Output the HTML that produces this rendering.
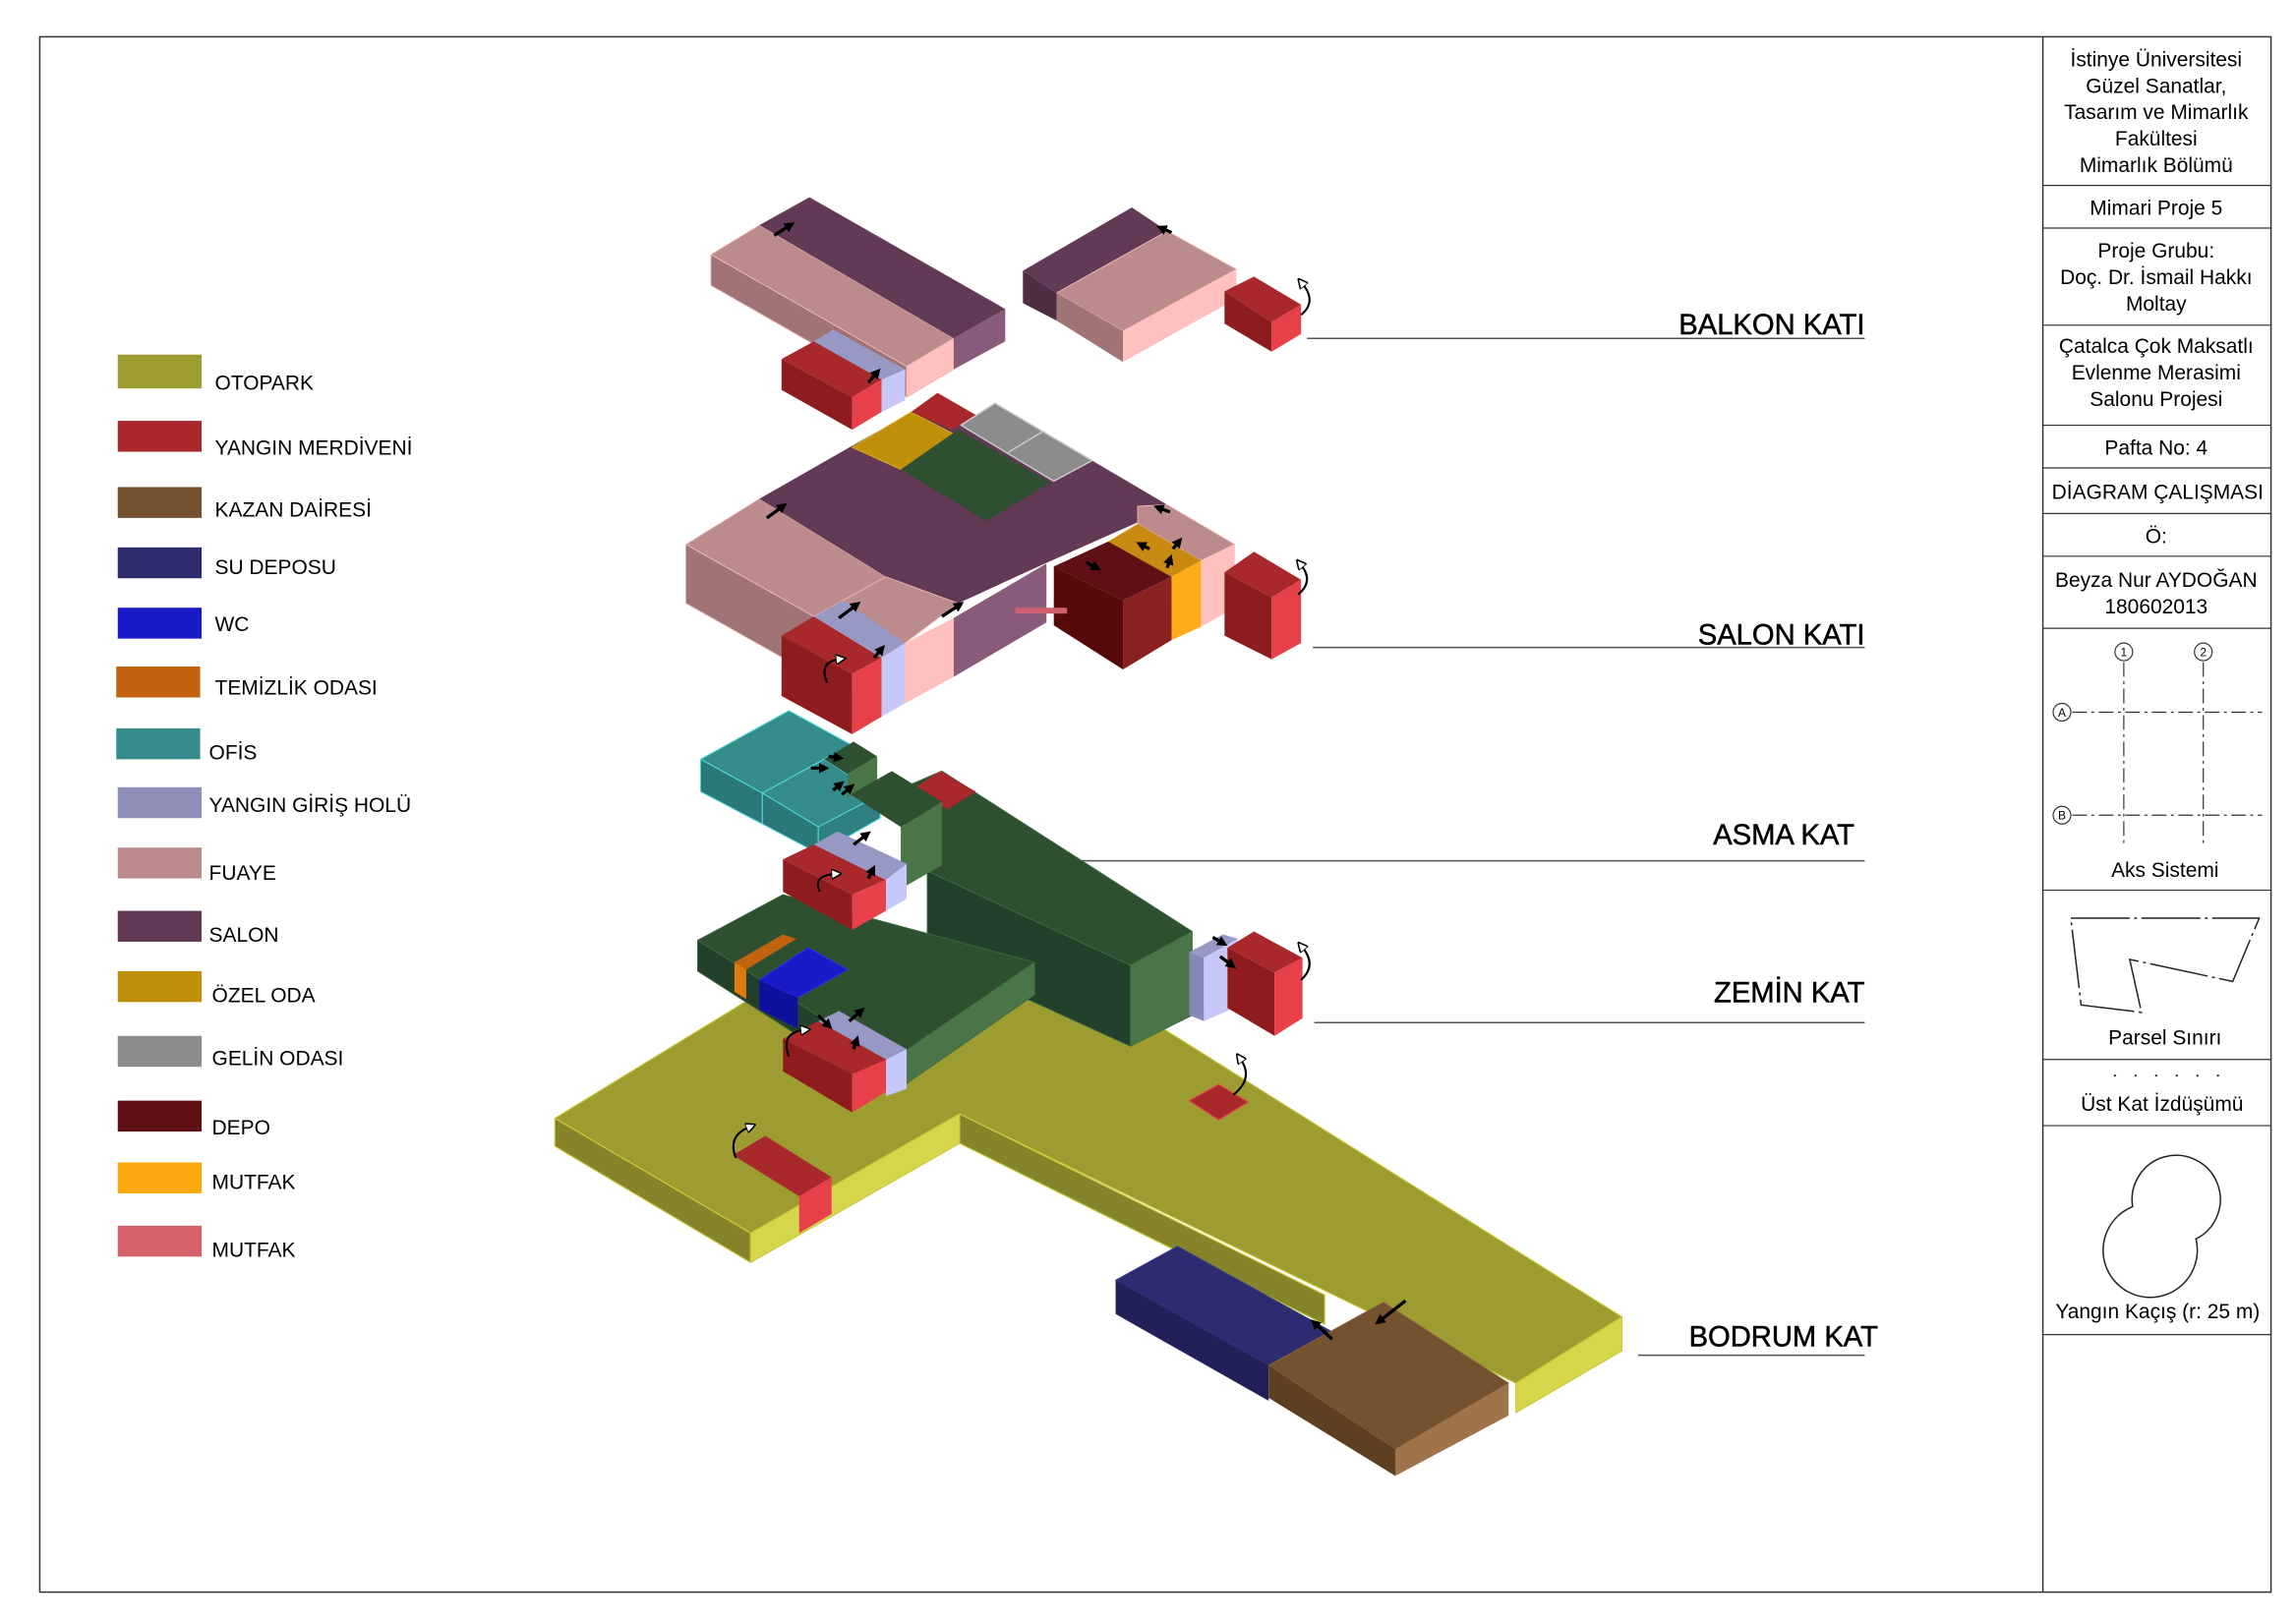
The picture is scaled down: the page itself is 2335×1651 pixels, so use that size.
<!DOCTYPE html>
<html><head><meta charset="utf-8"><style>
html,body{margin:0;padding:0;background:#fff}
svg{display:block}
text{font-family:"Liberation Sans",Arial,sans-serif;fill:#000}
.tb{font-size:14px;text-anchor:middle}
.lg{font-size:14px}
.fl{font-size:19.5px;text-anchor:end;stroke:#000;stroke-width:0.35}
polygon{stroke-linejoin:round}
</style></head><body>
<svg width="2335" height="1651" viewBox="0 0 1560 1103" preserveAspectRatio="none" xmlns="http://www.w3.org/2000/svg">
<defs>
<marker id="ah" viewBox="0 0 10 10" refX="5" refY="5" markerWidth="3.2" markerHeight="3.2" orient="auto-start-reverse"><path d="M0,0 L10,5 L0,10 z" fill="#000"/></marker>
<marker id="oh" viewBox="0 0 10 10" refX="3" refY="5" markerWidth="5" markerHeight="5" orient="auto"><path d="M0,0 L10,5 L0,10 z" fill="#fff" stroke="#000" stroke-width="1.5"/></marker>
</defs>
<rect width="1560" height="1103" fill="#fff"/>
<rect x="27" y="25" width="1516" height="1057" fill="none" stroke="#333" stroke-width="1"/>
<line x1="1388" y1="25" x2="1388" y2="1082" stroke="#333" stroke-width="1"/>
<g stroke="#333" stroke-width="0.8">
<line x1="1388" y1="126" x2="1543" y2="126"/><line x1="1388" y1="155" x2="1543" y2="155"/>
<line x1="1388" y1="221" x2="1543" y2="221"/><line x1="1388" y1="289" x2="1543" y2="289"/>
<line x1="1388" y1="318" x2="1543" y2="318"/><line x1="1388" y1="349" x2="1543" y2="349"/>
<line x1="1388" y1="378" x2="1543" y2="378"/><line x1="1388" y1="427" x2="1543" y2="427"/>
<line x1="1388" y1="605" x2="1543" y2="605"/><line x1="1388" y1="720" x2="1543" y2="720"/>
<line x1="1388" y1="765" x2="1543" y2="765"/><line x1="1388" y1="907" x2="1543" y2="907"/>
</g>
<g class="tb">
<text x="1465" y="45" class="tb">İstinye Üniversitesi</text>
<text x="1465" y="63" class="tb">Güzel Sanatlar,</text>
<text x="1465" y="81" class="tb">Tasarım ve Mimarlık</text>
<text x="1465" y="99" class="tb">Fakültesi</text>
<text x="1465" y="117" class="tb">Mimarlık Bölümü</text>
<text x="1465" y="146" class="tb">Mimari Proje 5</text>
<text x="1465" y="175" class="tb">Proje Grubu:</text>
<text x="1465" y="193" class="tb">Doç. Dr. İsmail Hakkı</text>
<text x="1465" y="211" class="tb">Moltay</text>
<text x="1465" y="240" class="tb">Çatalca Çok Maksatlı</text>
<text x="1465" y="258" class="tb">Evlenme Merasimi</text>
<text x="1465" y="276" class="tb">Salonu Projesi</text>
<text x="1465" y="309" class="tb">Pafta No: 4</text>
<text x="1466" y="339" class="tb">DİAGRAM ÇALIŞMASI</text>
<text x="1465" y="369" class="tb">Ö:</text>
<text x="1465" y="399" class="tb">Beyza Nur AYDOĞAN</text>
<text x="1465" y="417" class="tb">180602013</text>
<text x="1471" y="596" class="tb">Aks Sistemi</text>
<text x="1471" y="710" class="tb">Parsel Sınırı</text>
<text x="1469" y="755" class="tb">Üst Kat İzdüşümü</text>
<text x="1466" y="896" class="tb">Yangın Kaçış (r: 25 m)</text>
</g>
<g stroke="#333" stroke-width="0.8" fill="none">
<line x1="1408" y1="484" x2="1537" y2="484" stroke-dasharray="10,3,2,3"/>
<line x1="1408" y1="554" x2="1537" y2="554" stroke-dasharray="10,3,2,3"/>
<line x1="1443" y1="450" x2="1443" y2="576" stroke-dasharray="10,3,2,3"/>
<line x1="1497" y1="450" x2="1497" y2="576" stroke-dasharray="10,3,2,3"/>
<circle cx="1443" cy="443" r="6"/><circle cx="1497" cy="443" r="6"/>
<circle cx="1401" cy="484" r="6"/><circle cx="1401" cy="554" r="6"/>
</g>
<g font-size="8" text-anchor="middle"><text x="1443" y="446">1</text><text x="1497" y="446">2</text><text x="1401" y="487">A</text><text x="1401" y="557">B</text></g>
<polyline points="1407,624 1535,624 1517,667 1447,652 1455,688 1414,683 1407,624" fill="none" stroke="#222" stroke-width="1" stroke-dasharray="40,3,2,3"/>
<g fill="#333"><circle cx="1437" cy="731" r="0.8"/><circle cx="1451" cy="731" r="0.8"/><circle cx="1465" cy="731" r="0.8"/><circle cx="1479" cy="731" r="0.8"/><circle cx="1493" cy="731" r="0.8"/><circle cx="1507" cy="731" r="0.8"/></g>
<path d="M1449,820 A30,30 0 1 1 1492,842 A32,32 0 1 1 1449,820 Z" fill="none" stroke="#222" stroke-width="1"/>

<g>
<rect x="80" y="241" width="57" height="23" fill="#9c9c30"/><text class="lg" x="146" y="265">OTOPARK</text>
<rect x="80" y="286" width="57" height="21" fill="#a8282c"/><text class="lg" x="146" y="309">YANGIN MERDİVENİ</text>
<rect x="80" y="331" width="57" height="21" fill="#75522f"/><text class="lg" x="146" y="351">KAZAN DAİRESİ</text>
<rect x="80" y="372" width="57" height="21" fill="#2e2c6c"/><text class="lg" x="146" y="390">SU DEPOSU</text>
<rect x="80" y="413" width="57" height="21" fill="#1a1ac8"/><text class="lg" x="146" y="429">WC</text>
<rect x="79" y="453" width="57" height="21" fill="#c0620e"/><text class="lg" x="146" y="472">TEMİZLİK ODASI</text>
<rect x="79" y="495" width="57" height="21" fill="#368c8c"/><text class="lg" x="142" y="516">OFİS</text>
<rect x="80" y="535" width="57" height="21" fill="#8e8eb8"/><text class="lg" x="142" y="552">YANGIN GİRİŞ HOLÜ</text>
<rect x="80" y="576" width="57" height="21" fill="#bc8c8c"/><text class="lg" x="142" y="598">FUAYE</text>
<rect x="80" y="619" width="57" height="21" fill="#623a56"/><text class="lg" x="142" y="640">SALON</text>
<rect x="80" y="660" width="57" height="21" fill="#c0900a"/><text class="lg" x="144" y="681">ÖZEL ODA</text>
<rect x="80" y="704" width="57" height="21" fill="#8c8c8c"/><text class="lg" x="144" y="724">GELİN ODASI</text>
<rect x="80" y="748" width="57" height="21" fill="#5e1014"/><text class="lg" x="144" y="771">DEPO</text>
<rect x="80" y="790" width="57" height="21" fill="#fba70e"/><text class="lg" x="144" y="808">MUTFAK</text>
<rect x="80" y="833" width="57" height="21" fill="#d46068"/><text class="lg" x="144" y="854">MUTFAK</text>
</g>

<g stroke="#555" stroke-width="1">
<line x1="888" y1="230" x2="1267" y2="230"/>
<line x1="892" y1="440" x2="1267" y2="440"/>
<line x1="640" y1="585" x2="1267" y2="585"/>
<line x1="893" y1="695" x2="1267" y2="695"/>
<line x1="1113" y1="921" x2="1267" y2="921"/>
</g>
<text class="fl" x="1267" y="227">BALKON KATI</text>
<text class="fl" x="1267" y="438">SALON KATI</text>
<text class="fl" x="1260" y="574">ASMA KAT</text>
<text class="fl" x="1267" y="681">ZEMİN KAT</text>
<text class="fl" x="1276" y="915">BODRUM KAT</text>

<g stroke="#c8c83a" stroke-width="0.8">
<polygon points="377,760 506,681 560,650 760,680 1102,895 1030,940 652,757 510,838" fill="#9c9c30"/>
<polygon points="377,760 510,838 510,858 377,779" fill="#85842a"/>
<polygon points="510,838 652,757 652,777 510,858" fill="#d6d64a"/>
<polygon points="652,757 900,880 900,900 652,777" fill="#85842a"/>
<polygon points="1030,940 1102,895 1102,918 1030,960" fill="#d6d64a"/>
</g>
<polygon points="758,870 800,847 905,905 862,928" fill="#2e2c70" stroke="#3a3a90" stroke-width="0.6"/>
<polygon points="758,870 862,928 862,952 758,893" fill="#222058"/>
<polygon points="862,928 940,885 1025,940 948,985" fill="#75522f" stroke="#8a6440" stroke-width="0.6"/>
<polygon points="862,928 948,985 948,1003 862,950" fill="#5e3f20"/>
<polygon points="948,985 1025,940 1025,962 948,1003" fill="#a0744a"/>
<polygon points="498,785 520,772 565,800 543,813" fill="#a8282c"/>
<polygon points="543,813 565,800 565,825 543,838" fill="#e84048"/>
<polygon points="808,748 828,737 848,749 828,761" fill="#a8282c" stroke="#e84048" stroke-width="0.8"/>

<g stroke="#3f6a40" stroke-width="0.6">
<polygon points="605,539 640,524 810,633 768,656 630,592" fill="#2e5030"/>
<polygon points="630,592 768,656 768,711 630,648" fill="#22402a"/>
<polygon points="768,656 810,633 810,690 768,711" fill="#4a7548"/>
<polygon points="474,639 532,608 703,654 605,721" fill="#2e5030"/>
<polygon points="605,721 703,654 703,676 605,744" fill="#4a7548"/>
<polygon points="474,639 605,721 605,744 474,660" fill="#22402a"/>
</g>
<polygon points="619,537 639,524 663,538 644,550" fill="#a8282c"/>
<polygon points="499,654 532,635 541,638 507,659" fill="#c0620e"/>
<polygon points="499,654 507,659 507,679 499,674" fill="#e07a10"/>
<polygon points="516,666 549,644 576,659 542,678" fill="#1a1ac8" stroke="#3030ff" stroke-width="0.6"/>
<polygon points="516,666 542,678 542,699 516,686" fill="#10109e"/>
<polygon points="532,706 556,694 602,720 579,730" fill="#a8282c"/>
<polygon points="532,706 579,730 579,756 532,728" fill="#8e1c1e"/>
<polygon points="579,730 602,720 602,742 579,756" fill="#e84048"/>
<polygon points="556,694 570,687 616,713 602,720" fill="#9898c4"/>
<polygon points="602,720 616,713 616,740 602,745" fill="#c8c8f8"/>
<polygon points="808,647 831,635 841,638 818,651" fill="#9898c4"/>
<polygon points="808,647 818,651 818,694 808,690" fill="#8888b8"/>
<polygon points="818,651 841,638 841,684 818,694" fill="#c8c8f8"/>
<polygon points="834,644 852,633 885,651 866,661" fill="#a8282c"/>
<polygon points="834,644 866,661 866,704 834,685" fill="#8e1c1e"/>
<polygon points="866,661 885,651 885,692 866,704" fill="#e84048"/>

<g stroke="#4fd8d8" stroke-width="0.7">
<polygon points="476,516 536,483 578,506 518,539" fill="#368c8c"/>
<polygon points="476,516 518,539 518,560 476,538" fill="#2a7878"/>
<polygon points="518,539 560,516 598,540 556,562" fill="#368c8c"/>
<polygon points="518,539 556,562 556,580 518,560" fill="#2a7878"/>
<polygon points="556,562 598,540 598,556 556,580" fill="#2f8080"/>
</g>
<polygon points="560,516 580,504 596,514 576,526" fill="#2e5030"/>
<polygon points="576,526 596,514 596,530 576,542" fill="#4a7548"/>
<polygon points="578,540 606,524 640,545 612,562" fill="#2e5030"/>
<polygon points="612,562 640,545 640,588 612,604" fill="#4a7548"/>
<polygon points="532,584 553,574 602,598 579,608" fill="#a8282c"/>
<polygon points="532,584 579,608 579,632 532,606" fill="#8e1c1e"/>
<polygon points="579,608 602,598 602,619 579,632" fill="#e84048"/>
<polygon points="553,574 569,565 616,587 602,598" fill="#9898c4"/>
<polygon points="602,598 616,587 616,611 602,619" fill="#c8c8f8"/>

<g stroke="#f0b8b8" stroke-width="0.6">
<polygon points="466,370 516,339 602,392 553,419" fill="#bc8c8c"/>
<polygon points="466,370 553,419 553,459 466,410" fill="#a07474"/>
</g>
<polygon points="516,339 579,303 620,280 742,313 793,343 773,355 710,383 651,410 602,392" fill="#623a56"/>
<polygon points="553,419 602,392 651,410 615,437 573,430" fill="#bc8c8c" stroke="#f0b8b8" stroke-width="0.6"/>
<polygon points="615,437 648,420 648,460 615,478" fill="#ffc0c0"/>
<polygon points="648,420 711,383 711,423 648,460" fill="#8a5a7a"/>
<polygon points="773,344 793,343 839,370 816,381 773,356" fill="#bc8c8c" stroke="#f0b8b8" stroke-width="0.6"/>
<polygon points="816,381 839,370 839,413 816,426" fill="#ffc0c0"/>
<polygon points="753,368 773,356 816,381 796,392" fill="#c88a10"/>
<polygon points="796,392 816,381 816,426 796,435" fill="#ffaa18"/>
<polygon points="716,385 753,368 796,392 763,408" fill="#5e1014"/>
<polygon points="716,385 763,408 763,455 716,425" fill="#560a0a"/>
<polygon points="763,408 796,392 796,435 763,455" fill="#8a2020"/>
<rect x="690" y="413" width="35" height="4" fill="#d06070"/>
<polygon points="579,304 619,280 648,295 612,319" fill="#c0900a" stroke="#e0b020" stroke-width="0.6"/>
<polygon points="619,280 637,267 663,282 647,292" fill="#a8282c"/>
<polygon points="612,319 651,292 714,328 670,354" fill="#2e5030"/>
<polygon points="653,289 676,274 742,313 716,327" fill="#8c8c8c" stroke="#c8c8c8" stroke-width="1"/>
<line x1="684" y1="308" x2="709" y2="293" stroke="#c8c8c8" stroke-width="1"/>
<polygon points="531,432 553,419 599,447 579,458" fill="#a8282c"/>
<polygon points="531,432 579,458 579,499 531,473" fill="#8e1c1e"/>
<polygon points="579,458 599,447 599,487 579,499" fill="#e84048"/>
<polygon points="553,419 573,408 615,437 599,447" fill="#9898c4"/>
<polygon points="599,447 615,437 615,478 599,487" fill="#c8c8f8"/>
<polygon points="832,389 852,375 884,394 864,406" fill="#a8282c"/>
<polygon points="832,389 864,406 864,448 832,432" fill="#8e1c1e"/>
<polygon points="864,406 884,394 884,437 864,448" fill="#e84048"/>

<g stroke="#f0b8b8" stroke-width="0.6">
<polygon points="483,173 516,153 648,230 616,249" fill="#bc8c8c"/>
<polygon points="483,173 616,249 616,270 483,194" fill="#a07474"/>
<polygon points="616,249 648,230 648,251 616,270" fill="#ffc0c0"/>
</g>
<polygon points="516,153 550,134 683,210 648,230" fill="#623a56"/>
<polygon points="648,230 683,210 683,232 648,251" fill="#8a5a7a"/>
<polygon points="531,244 553,232 599,258 579,270" fill="#a8282c"/>
<polygon points="531,244 579,270 579,292 531,265" fill="#8e1c1e"/>
<polygon points="579,270 599,258 599,280 579,292" fill="#e84048"/>
<polygon points="553,232 566,224 615,251 599,258" fill="#9898c4"/>
<polygon points="599,258 615,251 615,272 599,280" fill="#c8c8f8"/>
<polygon points="695,184 769,141 793,157 718,199" fill="#623a56"/>
<polygon points="695,184 718,199 718,218 695,206" fill="#4e2e44"/>
<polygon points="718,199 793,157 840,183 763,225" fill="#bc8c8c" stroke="#f0b8b8" stroke-width="0.6"/>
<polygon points="718,199 763,225 763,246 718,218" fill="#a07474"/>
<polygon points="763,225 840,183 840,203 763,246" fill="#ffc0c0"/>
<polygon points="832,198 852,188 884,207 864,219" fill="#a8282c"/>
<polygon points="832,198 864,219 864,239 832,220" fill="#8e1c1e"/>
<polygon points="864,219 884,207 884,227 864,239" fill="#e84048"/>

<g stroke="#000" stroke-width="2.2" marker-end="url(#ah)" fill="none">
<line x1="526" y1="160" x2="537" y2="153"/>
<line x1="590" y1="260" x2="596" y2="253"/>
<line x1="796" y1="158" x2="789" y2="155"/>
<line x1="521" y1="352" x2="532" y2="344"/>
<line x1="570" y1="420" x2="582" y2="411"/>
<line x1="640" y1="419" x2="652" y2="411"/>
<line x1="594" y1="447" x2="599" y2="441"/>
<line x1="795" y1="348" x2="787" y2="345"/>
<line x1="781" y1="373" x2="775" y2="370"/>
<line x1="738" y1="382" x2="745" y2="386"/>
<line x1="797" y1="373" x2="801" y2="368"/>
<line x1="793" y1="386" x2="795" y2="380"/>
<line x1="580" y1="574" x2="589" y2="567"/>
<line x1="590" y1="597" x2="593" y2="591"/>
<line x1="551" y1="522" x2="560" y2="522"/>
<line x1="563" y1="514" x2="570" y2="515"/>
<line x1="566" y1="537" x2="571" y2="533"/>
<line x1="572" y1="540" x2="578" y2="535"/>
<line x1="556" y1="690" x2="563" y2="697"/>
<line x1="577" y1="694" x2="585" y2="687"/>
<line x1="580" y1="713" x2="582" y2="707"/>
<line x1="824" y1="637" x2="831" y2="641"/>
<line x1="829" y1="650" x2="837" y2="656"/>
<line x1="955" y1="884" x2="937" y2="898"/>
<line x1="905" y1="910" x2="893" y2="899"/>
</g>
<g stroke="#000" stroke-width="1.4" fill="none" marker-end="url(#oh)">
<path d="M884,214 Q895,205 885,193"/>
<path d="M882,404 Q893,395 884,384"/>
<path d="M562,464 Q556,450 570,448"/>
<path d="M557,606 Q552,595 567,594"/>
<path d="M884,666 Q895,656 885,644"/>
<path d="M536,718 Q530,702 546,700"/>
<path d="M838,744 Q852,733 843,720"/>
<path d="M500,787 Q494,772 509,766"/>
</g>
</svg>
</body></html>
